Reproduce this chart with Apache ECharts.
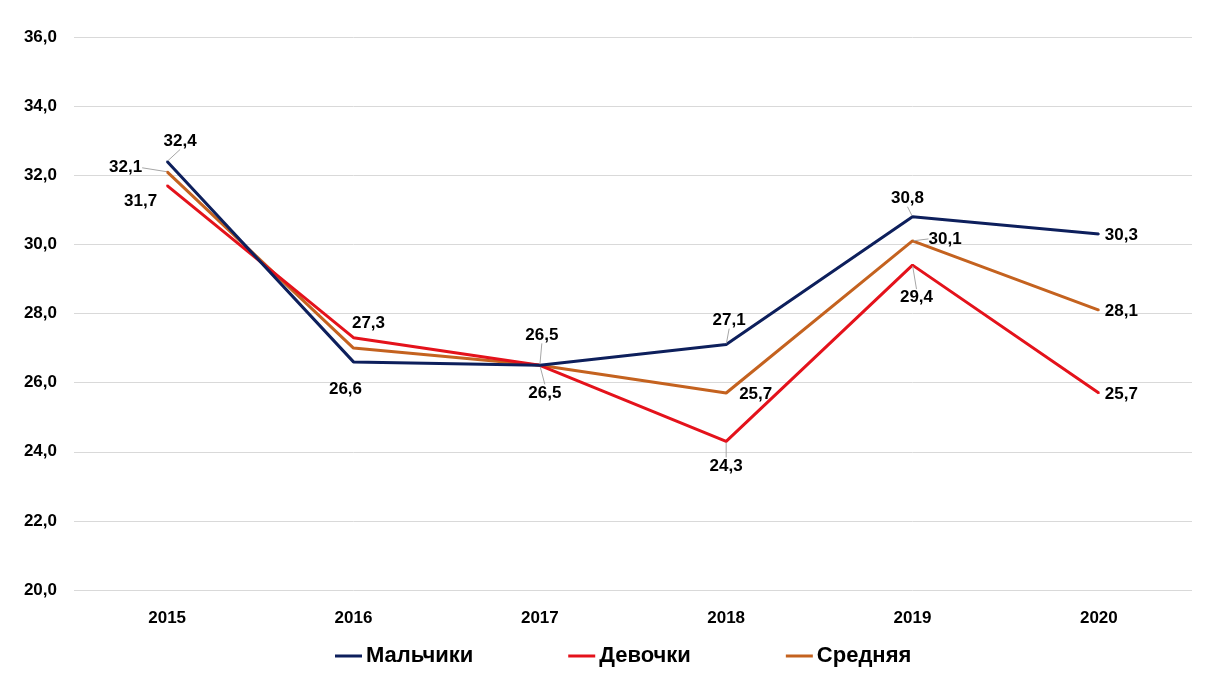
<!DOCTYPE html>
<html><head><meta charset="utf-8">
<script src="https://cdn.jsdelivr.net/npm/echarts@6/dist/echarts.min.js"></script>
<style>html,body{margin:0;padding:0;background:#fff}#c{width:1222px;height:676px}</style>
</head><body><div id="c"></div>
<script>
const categories = ['2015','2016','2017','2018','2019','2020'];
const boys  = [32.4, 26.6, 26.5, 27.1, 30.8, 30.3];
const girls = [31.7, 27.3, 26.5, 24.3, 29.4, 25.7];
const avg   = [32.1, 27.0, 26.5, 25.7, 30.1, 28.1];
const seriesNames = ['Мальчики','Девочки','Средняя'];

// label placement per point: [position, dx, dy, leaderLine] or null (hidden)
const boysLbl  = [['top',13,-6,1],['bottom',-8,13,0],['top',2,-16,1],['top',3,-10,1],['top',-5,-4,1],['right',0,1,0]];
const girlsLbl = [['left',-4,16,0],['top',15,0,0],['bottom',5,13,1],['bottom',0,10,1],['bottom',4,18,1],['right',0,1,0]];
const avgLbl   = [['left',-19,-4,1],null,null,['right',7,1,0],['right',10,-2,1],['right',0,1,0]];
const lblSets = [boysLbl, girlsLbl, avgLbl];

const fmt = v => v.toFixed(1).replace('.', ',');
const FONT = 'Liberation Sans';

function build(vals, lbl){
  return vals.map((v,i)=>{
    const l = lbl[i];
    if(!l) return {value:v, label:{show:false}};
    return {value:v, label:{show:true, position:l[0]}, labelLine:{show:!!l[3]}};
  });
}

const colors = ['#0d1f5c','#e4121b','#c4621f'];
const labelBase = {fontFamily:FONT, fontWeight:'bold', fontSize:17, color:'#000', distance:5, formatter:p=>fmt(p.value)};
const lineBase = {show:false, length2:0, lineStyle:{color:'#a6a6a6', width:1}};
function mkSeries(idx, vals){
  return {name:seriesNames[idx], type:'line', data:build(vals,lblSets[idx]),
    symbol:'circle', symbolSize:2, showSymbol:true,
    itemStyle:{color:colors[idx]},
    lineStyle:{width:3, color:colors[idx]},
    label:labelBase, labelLine:lineBase,
    labelLayout:function(p){ const l = lblSets[idx][p.dataIndex]; return l ? {dx:l[1], dy:l[2]} : {}; },
    z:3-idx};
}

const chart = echarts.init(document.getElementById('c'));
chart.setOption({
  animation:false,
  color: colors,
  grid:{left:74, right:30, top:37, bottom:86},
  legend:{
    top:640, left:330, itemGap:95, itemWidth:27, itemHeight:3,
    icon:'rect',
    textStyle:{fontFamily:FONT, fontWeight:'bold', fontSize:22, color:'#000', padding:[0,0,0,-1]},
    data: seriesNames
  },
  xAxis:{
    type:'category', data:categories, boundaryGap:true,
    axisLine:{show:false}, axisTick:{show:false},
    axisLabel:{fontFamily:FONT, fontWeight:'bold', fontSize:17, color:'#000', margin:20}
  },
  yAxis:{
    type:'value', min:20, max:36, interval:2,
    axisLine:{show:false}, axisTick:{show:false},
    splitLine:{lineStyle:{color:'#d9d9d9', width:1}},
    axisLabel:{fontFamily:FONT, fontWeight:'bold', fontSize:17, color:'#000', margin:17,
      formatter: v => fmt(v)}
  },
  series:[ mkSeries(0,boys), mkSeries(1,girls), mkSeries(2,avg) ]
});
</script></body></html>
